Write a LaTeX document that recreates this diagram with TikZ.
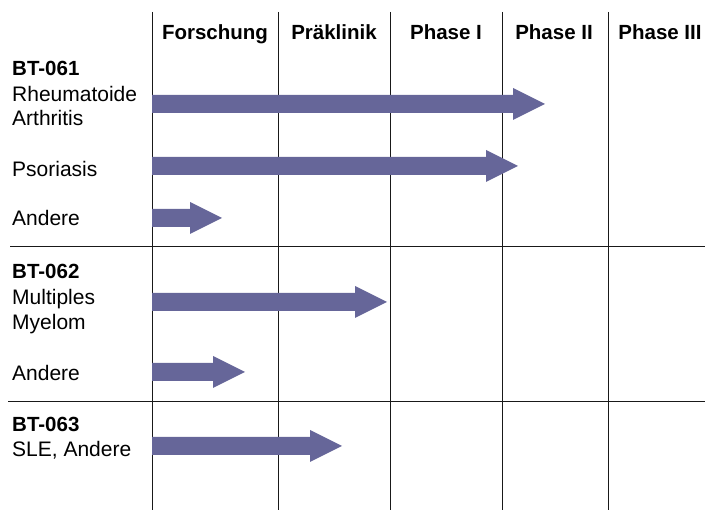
\documentclass[tikz,border=0pt]{standalone}
\usepackage{fontspec}
\setmainfont{Liberation Sans}
\definecolor{arrowcol}{RGB}{102,102,153}
\newcommand{\phasearrow}[3]{% start x, tip x, center y
  \fill[arrowcol] (#1,#3-9) -- (#2-32,#3-9) -- (#2-32,#3-16) -- (#2,#3) -- (#2-32,#3+16) -- (#2-32,#3+9) -- (#1,#3+9) -- cycle;}
\begin{document}
\begin{tikzpicture}[x=1pt,y=-1pt,
  gridline/.style={draw=black!90,line width=1pt},
  head/.style={font=\fontsize{20.5}{24}\selectfont\bfseries,anchor=base},
  lab/.style={font=\fontsize{21}{24}\selectfont,anchor=base west,inner sep=0pt},
  blab/.style={lab,font=\fontsize{20.5}{24}\selectfont\bfseries}]
\useasboundingbox (0,0) rectangle (705,510);
% grid
\foreach \x in {152,278,390,502,608} \draw[gridline] (\x,12) -- (\x,510);
\draw[gridline] (10,247) -- (705,247);
\draw[gridline] (8,402) -- (705,402);
% headers
\node[head] (h1) at (215,40) {Forschung};
\node[head] (h2) at (334,40) {Präklinik};
\node[head] (h3) at (446,40) {Phase I};
\node[head] (h4) at (554,40) {Phase II};
\node[head] (h5) at (660,40) {Phase III};
% labels
\node[blab] (b1) at (12,76) {BT-061};
\node[lab] (l1a) at (12,102) {Rheumatoide};
\node[lab] (l1b) at (12,126) {Arthritis};
\node[lab] (l2) at (12,177) {Psoriasis};
\node[lab] (l3) at (12,226) {Andere};
\node[blab] (b2) at (12,279) {BT-062};
\node[lab] (l4a) at (12,305) {Multiples};
\node[lab] (l4b) at (12,330) {Myelom};
\node[lab] (l5) at (12,381) {Andere};
\node[blab] (b3) at (12,432) {BT-063};
\node[lab] (l6) at (12,457) {SLE, Andere};
% arrows
\phasearrow{152}{545}{104}
\phasearrow{152}{518}{166}
\phasearrow{152}{222}{218}
\phasearrow{152}{387}{302}
\phasearrow{152}{245}{372}
\phasearrow{152}{342}{446}
\end{tikzpicture}
\end{document}
